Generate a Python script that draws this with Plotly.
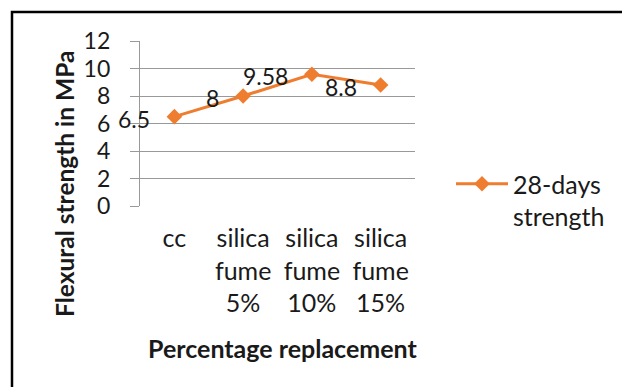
import plotly.graph_objects as go

# Flexural strength after 28 days for each mix
categories = ["cc", "silica<br>fume<br>5%", "silica<br>fume<br>10%", "silica<br>fume<br>15%"]
strength_28d = [6.5, 8, 9.58, 8.8]
series_name = "28-days<br>strength"
y_ticks = [0, 2, 4, 6, 8, 10, 12]

W, H = 622, 387
L, R, T, B = 140, 415, 41, 206  # plot area in pixels


def px(x):
    return (x - L) / (R - L)


def py(y):
    return (B - y) / (B - T)


FONT = "Lato"
ORANGE = "#EF7D30"
GRID = "#999999"
TXT = "#1a1a1a"

fig = go.Figure()
fig.add_trace(go.Scatter(
    x=categories, y=strength_28d, mode="lines+markers", name=series_name,
    line=dict(color=ORANGE, width=3),
    marker=dict(symbol="diamond", size=12, color=ORANGE),
    showlegend=True,
))

# value labels to the left of each point
for c, v in zip(categories, strength_28d):
    fig.add_annotation(x=c, y=v, text=f"{v:g}", showarrow=False,
                       xanchor="right", yanchor="middle", xshift=-22, yshift=-2,
                       font=dict(family=FONT, size=23, color=TXT))

fig.update_layout(
    width=W, height=H,
    margin=dict(l=L, r=W - R, t=T, b=H - B),
    paper_bgcolor="white", plot_bgcolor="white",
    font=dict(family=FONT, size=23, color=TXT),
    xaxis=dict(type="category", range=[-0.5, 3.5], showgrid=False,
               showline=False, ticks="", zeroline=False,
               tickfont=dict(family=FONT, size=25, color=TXT),
               ticklabelstandoff=15),
    yaxis=dict(range=[0, 12], tickvals=y_ticks, showgrid=True, gridcolor=GRID,
               gridwidth=1.3, showline=True, linecolor=GRID, linewidth=1.3,
               ticks="outside", ticklen=9, tickcolor=GRID, tickwidth=1.3,
               zeroline=False,
               tickfont=dict(family=FONT, size=23, color=TXT),
               ticklabelstandoff=15),
    legend=dict(x=px(451), y=py(161), xanchor="left", yanchor="top",
                valign="top", font=dict(family=FONT, size=25, color=TXT),
                bgcolor="rgba(0,0,0,0)", itemwidth=52),
    annotations=list(fig.layout.annotations) + [
        dict(x=px(64), y=py(184), xref="paper", yref="paper", showarrow=False,
             xanchor="center", yanchor="middle",
             text="<b>Flexural strength in MPa</b>", textangle=-90,
             font=dict(family=FONT, size=24.5, color=TXT)),
        dict(x=px(282), y=py(348), xref="paper", yref="paper", showarrow=False,
             xanchor="center", yanchor="middle",
             text="<b>Percentage replacement</b>",
             font=dict(family=FONT, size=25, color=TXT)),
    ],
    shapes=[dict(type="rect", xref="paper", yref="paper",
                 x0=px(12), y0=py(400), x1=px(640), y1=py(12),
                 line=dict(color="black", width=2.5), layer="below")],
)

fig.write_html("out.html")
